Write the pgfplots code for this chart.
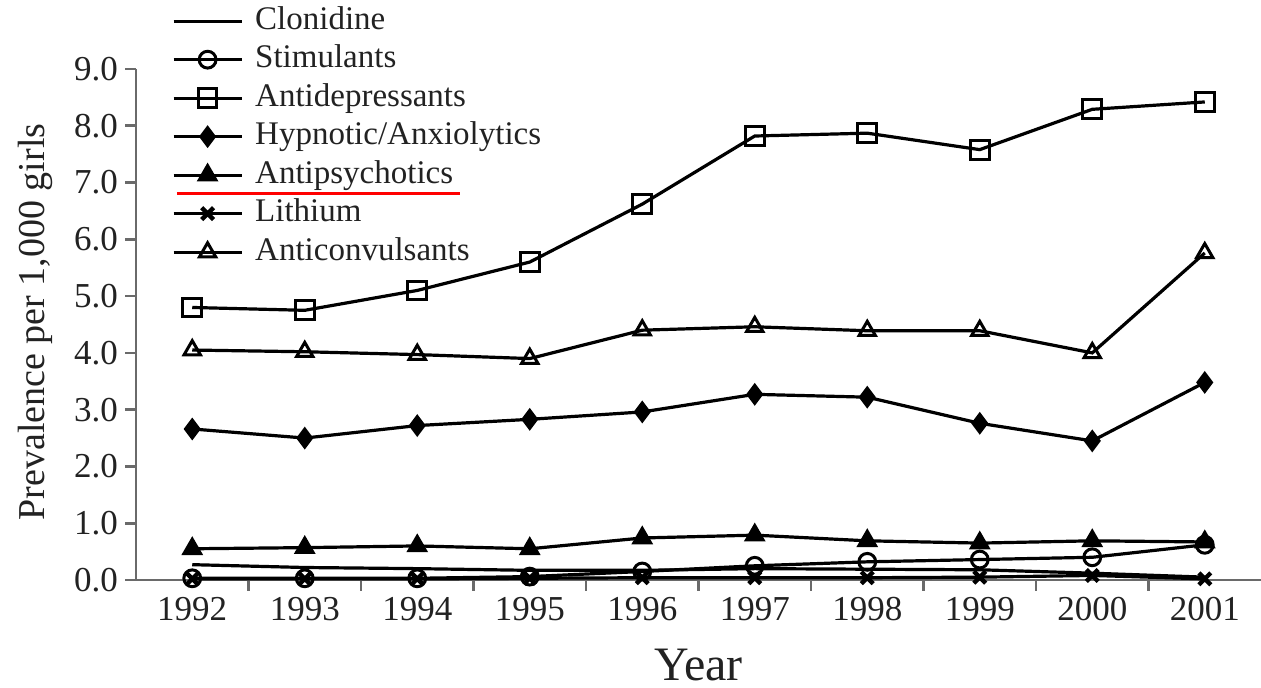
\documentclass[border=0pt]{standalone}
\usepackage{fontspec}
\setmainfont{Liberation Serif}
\usepackage{pgfplots}
\pgfplotsset{compat=1.18}
\definecolor{ax}{HTML}{6A6A6A}
\definecolor{tx}{HTML}{222222}
\begin{document}
\begin{tikzpicture}
\begin{axis}[
  at={(0,0)}, anchor=south west,
  width=562.5pt, height=255.5pt, scale only axis,
  xmin=1991.5, xmax=2001.5, ymin=0, ymax=9,
  clip=false,
  axis x line=bottom, axis y line=left,
  axis line style={ax, line width=1.3pt, -},
  tick align=outside,
  major tick length=5.5pt,
  tick style={ax, line width=1.3pt},
  /pgf/number format/assume math mode=true,
  ytick={0,1,...,9},
  yticklabel={\pgfmathprintnumber[fixed,fixed zerofill,precision=1]{\tick}},
  xtick={1992.5,1993.5,...,2000.5},
  xticklabels={},
  extra x ticks={1992,1993,1994,1995,1996,1997,1998,1999,2000,2001},
  extra x tick labels={1992,1993,1994,1995,1996,1997,1998,1999,2000,2001},
  extra x tick style={major tick length=0pt},
  ticklabel style={font=\fontsize{17.5}{20}\selectfont, text=tx},
  xticklabel style={yshift=-5pt},
  xlabel={Year},
  ylabel={Prevalence per 1,000 girls},
  x label style={at={(axis description cs:0.5,-0.166)}, anchor=center, font=\fontsize{24}{28}\selectfont, text=tx},
  y label style={at={(axis description cs:-0.0898,0.505)}, anchor=center, font=\fontsize{19}{22}\selectfont, text=tx},
  legend style={at={(axis description cs:0.032,1.123)}, anchor=north west, draw=none, fill=none,
    inner sep=0pt, outer sep=0pt, column sep=6pt, row sep=4.25pt,
    nodes={inner sep=0pt, text height=11.5pt, text depth=3.5pt, font=\fontsize{16.5}{19}\selectfont, text=tx}},
  legend cell align=left,
  legend image code/.code={\draw[line width=1.6pt, mark repeat=2,mark phase=2,#1] plot coordinates {(0pt,0pt)(17pt,0pt)(34pt,0pt)};},
]
\addplot[black, solid, line width=1.6pt] coordinates {(1992,0.27)(1993,0.22)(1994,0.20)(1995,0.17)(1996,0.17)(1997,0.20)(1998,0.19)(1999,0.18)(2000,0.12)(2001,0.05)};
\addlegendentry{Clonidine}
\addplot[black, solid, line width=1.6pt, mark=o, mark size=4.2pt, mark options={solid, fill=white, line width=1.5pt}] coordinates {(1992,0.03)(1993,0.03)(1994,0.03)(1995,0.06)(1996,0.15)(1997,0.25)(1998,0.32)(1999,0.36)(2000,0.40)(2001,0.62)};
\addlegendentry{Stimulants}
\addplot[black, solid, line width=1.6pt, mark=square, mark size=4.7pt, mark options={solid, line width=1.5pt}] coordinates {(1992,4.80)(1993,4.75)(1994,5.10)(1995,5.60)(1996,6.62)(1997,7.82)(1998,7.87)(1999,7.58)(2000,8.29)(2001,8.42)};
\addlegendentry{Antidepressants}
\addplot[black, solid, line width=1.6pt, mark=diamond*, mark size=4.4pt, mark options={solid, fill=black}] coordinates {(1992,2.66)(1993,2.50)(1994,2.72)(1995,2.83)(1996,2.96)(1997,3.27)(1998,3.22)(1999,2.76)(2000,2.45)(2001,3.48)};
\addlegendentry{Hypnotic/Anxiolytics}
\addplot[black, solid, line width=1.6pt, mark=triangle*, mark size=4.7pt, mark options={solid, fill=black}] coordinates {(1992,0.55)(1993,0.57)(1994,0.60)(1995,0.55)(1996,0.74)(1997,0.79)(1998,0.69)(1999,0.65)(2000,0.69)(2001,0.67)};
\addlegendentry{Antipsychotics}
\addplot[black, solid, line width=1.6pt, mark=x, mark size=4.2pt, mark options={solid, line width=2.2pt}] coordinates {(1992,0.02)(1993,0.02)(1994,0.02)(1995,0.03)(1996,0.04)(1997,0.04)(1998,0.04)(1999,0.05)(2000,0.08)(2001,0.02)};
\addlegendentry{Lithium}
\addplot[black, solid, line width=1.6pt, mark=triangle, mark size=4.7pt, mark options={solid, line width=1.5pt}] coordinates {(1992,4.05)(1993,4.02)(1994,3.97)(1995,3.90)(1996,4.40)(1997,4.46)(1998,4.39)(1999,4.39)(2000,4.00)(2001,5.76)};
\addlegendentry{Anticonvulsants}
\draw[red, line width=1.5pt] (axis description cs:0.0364,0.757) -- (axis description cs:0.288,0.757);
\end{axis}
\pgfresetboundingbox
\useasboundingbox (-68pt,-54pt) rectangle (562.5pt,290pt);
\end{tikzpicture}
\end{document}
